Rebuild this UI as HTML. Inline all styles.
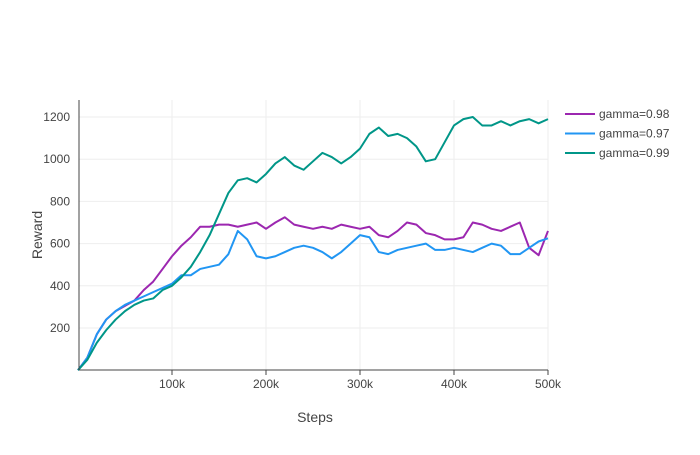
<!DOCTYPE html>
<html><head><meta charset="utf-8"><style>
body{margin:0;background:#fff;font-family:"Liberation Sans",sans-serif}
svg text{font-family:"Liberation Sans",sans-serif;fill:#444}
</style></head><body>
<svg width="700" height="450">
<g id="grid"></g><g id="series"></g><g id="axes"></g>
</svg>
<script>
const steps=[0,10,20,30,40,50,60,70,80,90,100,110,120,130,140,150,160,170,180,190,200,210,220,230,240,250,260,270,280,290,300,310,320,330,340,350,360,370,380,390,400,410,420,430,440,450,460,470,480,490,500];
const g98=[0,60,170,240,280,305,330,380,420,480,540,590,630,680,680,690,690,680,690,700,670,700,725,690,680,670,680,670,690,680,670,680,640,630,660,700,690,650,640,620,620,630,700,690,670,660,680,700,580,545,660];
const g97=[0,60,170,240,280,310,330,350,370,390,410,450,450,480,490,500,550,660,620,540,530,540,560,580,590,580,560,530,560,600,640,630,560,550,570,580,590,600,570,570,580,570,560,580,600,590,550,550,580,610,625];
const g99=[0,50,130,190,240,280,310,330,340,380,400,440,490,560,640,740,840,900,910,890,930,980,1010,970,950,990,1030,1010,980,1010,1050,1120,1150,1110,1120,1100,1060,990,1000,1080,1160,1190,1200,1160,1160,1180,1160,1180,1190,1170,1190];
const yTicks=[200,400,600,800,1000,1200];
const xTicks=[100,200,300,400,500];
const names=["gamma=0.98","gamma=0.97","gamma=0.99"];
const colors=["#9c27b0","#2196f3","#009688"];
const L=79,R=548,T=100,B=370;
const xs=k=>78+k*0.94, ys=v=>370.2-v*0.211;
const NS="http://www.w3.org/2000/svg";
function mk(t,a,p){const e=document.createElementNS(NS,t);for(const k in a)e.setAttribute(k,a[k]);p.appendChild(e);return e;}
const grid=document.getElementById('grid'),ser=document.getElementById('series'),ax=document.getElementById('axes');
yTicks.forEach(v=>{const l=mk('line',{x1:L,x2:R,y1:ys(v),y2:ys(v),stroke:'#eee'},grid);


const t=mk('text',{x:70,y:ys(v)+4,'text-anchor':'end','font-size':12},ax);t.textContent=v;

});
xTicks.forEach(v=>{const l=mk('line',{x1:xs(v),x2:xs(v),y1:T,y2:B,stroke:'#eee'},grid);


mk('line',{x1:xs(v),x2:xs(v),y1:B,y2:B+5,stroke:'#444'},ax);
const t=mk('text',{x:xs(v),y:388,'text-anchor':'middle','font-size':12},ax);t.textContent=v+'k';

});
mk('line',{x1:L,x2:L,y1:T,y2:B,stroke:'#444'},ax);
mk('line',{x1:L,x2:R,y1:B,y2:B,stroke:'#444'},ax);
let t=mk('text',{x:315,y:422,'text-anchor':'middle','font-size':14},ax);t.textContent='Steps';


t=mk('text',{x:42,y:235,'text-anchor':'middle','font-size':14,transform:'rotate(-90 42 235)'},ax);t.textContent='Reward';


[g98,g97,g99].forEach((d,i)=>{const p=mk('polyline',{points:d.map((v,j)=>xs(steps[j])+','+ys(v)).join(' '),fill:'none',stroke:colors[i],'stroke-width':2,'stroke-linejoin':'round'},ser);


const y=114+i*19.5;
const lg=mk('g',{},ax);


mk('line',{x1:565,x2:595,y1:y,y2:y,stroke:colors[i],'stroke-width':2},lg);
const tt=mk('text',{x:599,y:y+4,'font-size':12},lg);tt.textContent=names[i];});
</script>
</body></html>
